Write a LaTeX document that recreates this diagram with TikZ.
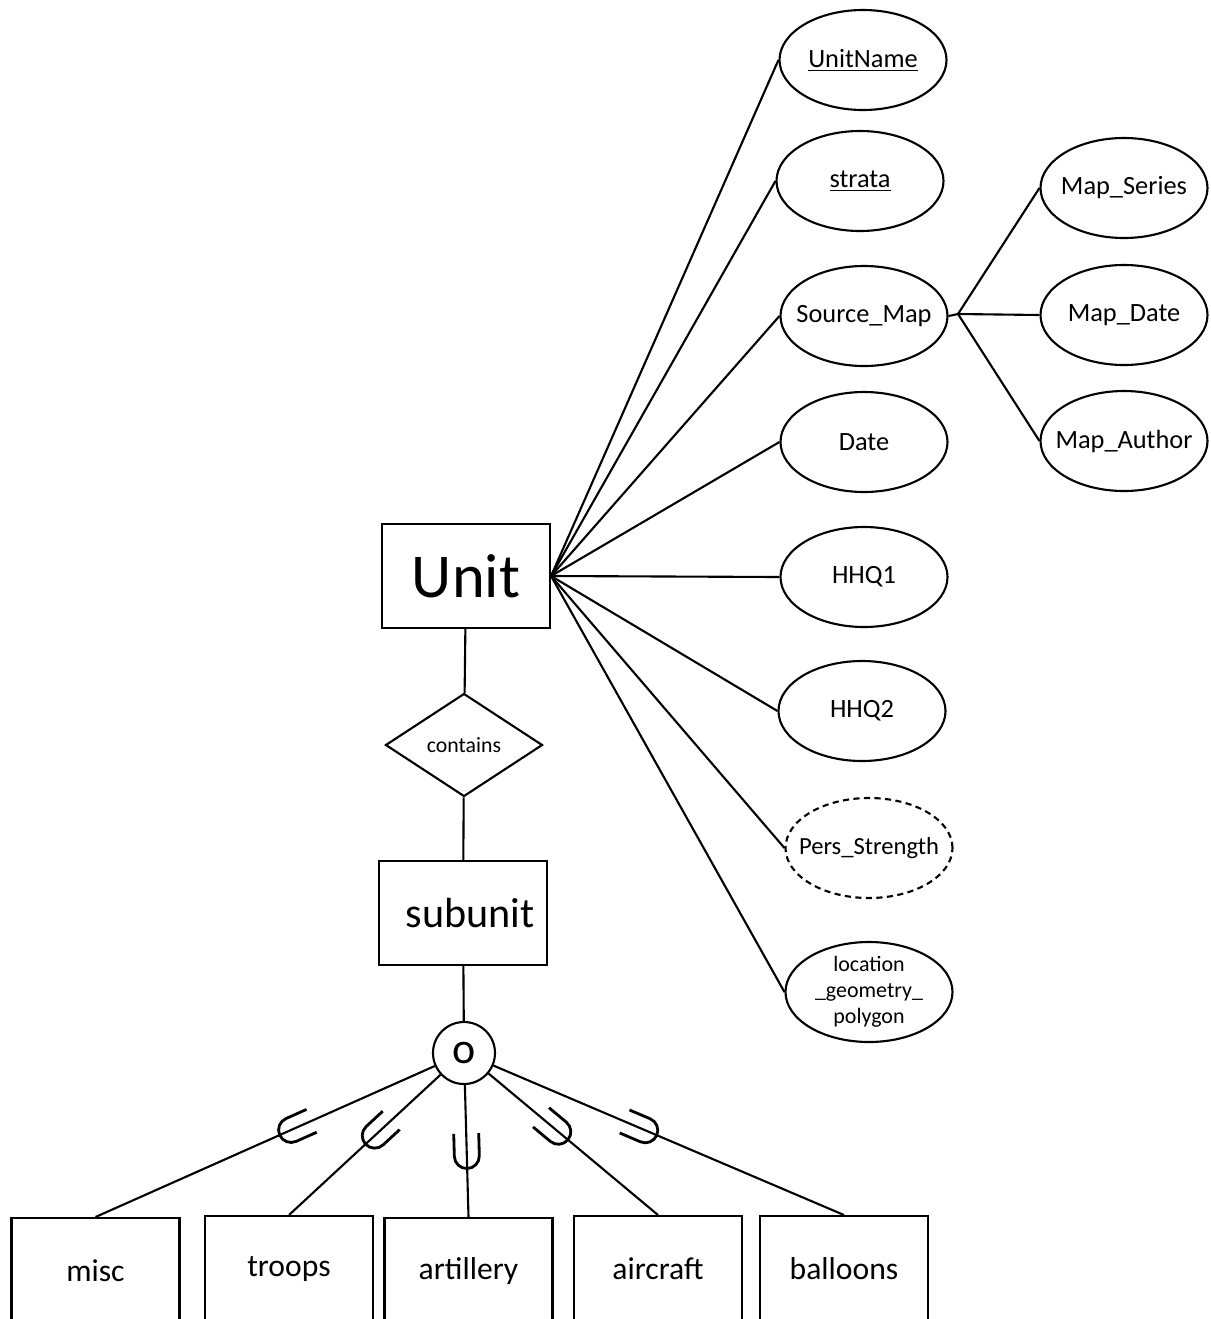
\documentclass[tikz,border=0pt]{standalone}
\usepackage{fontspec}
\setmainfont{Carlito}
\usetikzlibrary{positioning,shapes.geometric,decorations.markings}
\tikzset{entity/.style = {rectangle,draw,minimum width=3.36cm,minimum height=2.08cm,inner sep=0pt},
  attr/.style = {ellipse,draw,minimum width=3.34cm,minimum height=2cm,inner xsep=-0.3cm,inner ysep=0pt,font=\fontsize{15}{18}\selectfont},
  rel/.style = {diamond,draw,minimum width=3.14cm,minimum height=2.06cm,inner sep=0pt,font=\fontsize{12.4}{14}\selectfont},
  sub/.style = {rectangle,draw,minimum width=3.36cm,minimum height=2.1cm,inner sep=0pt,font=\fontsize{18}{21}\selectfont},
  subsetsym/.style = {postaction={decorate,decoration={markings,
      mark=at position #1 with {\draw[line width=1.6pt] (-0.35,0.25) -- (0.1,0.25) arc (90:-90:0.25) -- (-0.35,-0.25);}}}}}

\begin{document}
\begin{tikzpicture}[line width=1.2pt]
    \useasboundingbox (0,0) rectangle (24.22,-26.38);
    \clip (0,0) rectangle (24.22,-26.38);
    \node [entity,font=\fontsize{35.5}{40}\selectfont] (unit) at (9.32,-11.52) {Unit};
    \node [rel] (contains) at (9.28,-14.9) {contains};
    \node [entity,font=\fontsize{24}{28}\selectfont,text width=3.36cm,align=center] (subunit) at (9.26,-18.26) {\hspace*{0.28cm}subunit};
    \node [circle,draw,minimum size=1.24cm,inner sep=0pt,font=\fontsize{25}{28}\selectfont] (overlap) at (9.28,-21.06) {o};
    \draw (unit) -- (contains) -- (subunit) -- (overlap);
    % attributes of Unit
    \foreach \n/\x/\y/\t in {unitname/17.26/-1.2/\underline{UnitName}, strata/17.2/-3.62/\underline{strata},
        sourcemap/17.28/-6.32/Source\_Map, date/17.28/-8.84/Date, hhq1/17.28/-11.54/HHQ1, hhq2/17.24/-14.22/HHQ2} {
        \node [attr] (\n) at (\x,\y) {\t};
    }
    \node [attr,dash pattern=on 3.5pt off 2.5pt,font=\fontsize{14}{17}\selectfont] (persstrength) at (17.38,-16.96) {Pers\_Strength};
    \node [attr,align=center,font=\fontsize{12.5}{14.7}\selectfont] (location) at (17.38,-19.84) {location\\\_geometry\_\\polygon};
    \foreach \n in {unitname,strata,sourcemap,date,hhq1,hhq2,persstrength,location} {
        \draw (unit.east) -- (\n.west);
    }
    % composite Source_Map
    \foreach \n/\y/\t in {mapseries/-3.76/Map\_Series, mapdate/-6.3/Map\_Date, mapauthor/-8.82/Map\_Author} {
        \node [attr] (\n) at (22.48,\y) {\t};
    }
    \coordinate (fork) at (19.16,-6.28);
    \draw (sourcemap.east) -- (fork);
    \foreach \n in {mapseries,mapdate,mapauthor} {
        \draw (fork) -- (\n.west);
    }
    % subclasses
    \foreach \n/\x/\y/\p in {misc/1.91/-24.34/0.41, troops/5.78/-24.3/0.41, artillery/9.37/-24.34/0.5,
        aircraft/13.16/-24.3/0.39, balloons/16.88/-24.3/0.42} {
        \node [sub,anchor=north] (\n) at (\x,\y) {\n};
        \draw [subsetsym=\p] (overlap) -- (\n.north);
    }
\end{tikzpicture}
\end{document}
